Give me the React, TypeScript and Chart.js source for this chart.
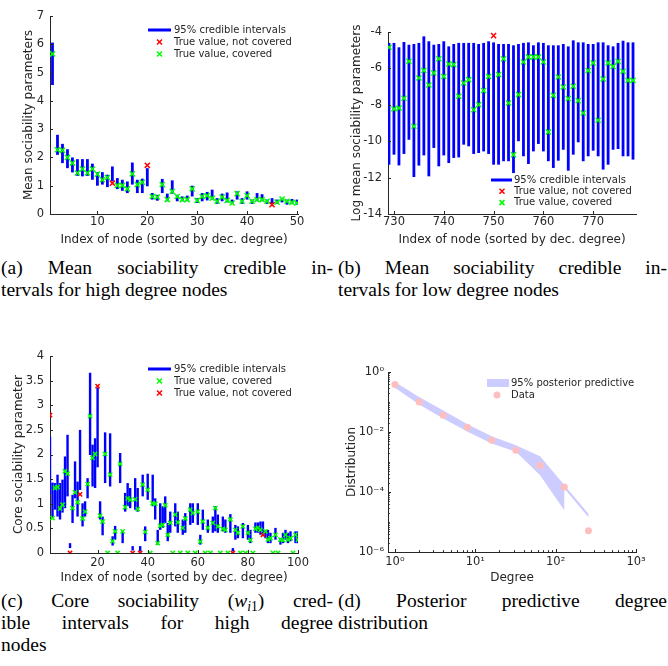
import React, { useEffect, useRef } from 'react';
import { Chart, registerables } from 'chart.js';
Chart.register(...registerables);

const SANS = '"DejaVu Sans", sans-serif';
const SERIF = '"Liberation Serif", "Times New Roman", serif';
const AXC = '#262626';
const BLUE = '#0000ff';
const GREEN = '#00ff00';
const RED = '#ff0000';

const range = (start: number, n: number) => Array.from({ length: n }, (_, i) => start + i);

// ---------- (a) high degree nodes, mean sociability ----------
const aNodes = range(1, 50);
const aLo = [4.56, 2.09, 1.80, 1.62, 1.47, 1.35, 1.33, 1.35, 1.21, 1.00,
  1.04, 0.95, 1.15, 0.88, 0.82, 0.74, 1.04, 0.74, 0.74, 0.98,
  0.51, 0.47, 0.74, 0.45, 0.72, 0.45, 0.45, 0.45, 0.62, 0.39,
  0.45, 0.48, 0.51, 0.36, 0.45, 0.41, 0.36, 0.51, 0.36, 0.51,
  0.36, 0.45, 0.45, 0.36, 0.36, 0.36, 0.41, 0.33, 0.36, 0.33];
const aHi = [6.06, 2.80, 2.48, 2.29, 2.00, 1.94, 1.94, 1.94, 1.78, 1.48,
  1.48, 1.39, 1.68, 1.27, 1.21, 1.15, 1.82, 1.21, 1.25, 1.62,
  0.74, 0.68, 1.24, 0.72, 1.19, 0.68, 0.62, 0.65, 1.00, 0.56,
  0.74, 0.78, 0.86, 0.56, 0.72, 0.76, 0.51, 0.80, 0.56, 0.80,
  0.51, 0.74, 0.70, 0.51, 0.56, 0.51, 0.56, 0.51, 0.53, 0.51];
const aTrue = [5.66, 2.27, 2.25, 2.00, 1.80, 1.45, 1.59, 1.45, 1.59, 1.41,
  1.21, 1.29, 1.09, 1.01, 1.01, 0.89, 1.42, 1.04, 1.12, 1.72,
  0.62, 0.60, 1.04, 0.51, 0.80, 0.62, 0.51, 0.51, 0.89, 0.48,
  0.62, 0.65, 0.56, 0.45, 0.60, 0.48, 0.39, 0.72, 0.45, 0.65,
  0.45, 0.51, 0.51, 0.45, 0.33, 0.42, 0.53, 0.45, 0.41, 0.39];
const aXTicks = [10, 20, 30, 40, 50];
const aYTicks = [0, 1, 2, 3, 4, 5, 6, 7];

// ---------- (b) low degree nodes, log mean sociability ----------
const bNodes = range(729, 50);
const bHi = [-4.60, -4.60, -4.84, -4.55, -4.70, -4.66, -4.60, -4.24, -4.51, -4.70,
  -4.66, -4.51, -4.79, -4.66, -4.60, -4.60, -4.60, -4.60, -4.66, -4.60,
  -4.51, -4.57, -4.66, -4.66, -4.66, -4.73, -4.66, -4.60, -4.57, -4.73,
  -4.57, -4.60, -4.73, -4.73, -4.73, -4.66, -4.79, -4.46, -4.57, -4.57,
  -4.66, -4.66, -4.57, -4.57, -4.73, -4.79, -4.60, -4.48, -4.57, -4.57];
const bLo = [-11.29, -10.74, -11.33, -10.70, -9.92, -11.97, -11.34, -10.78, -11.93, -10.37,
  -11.38, -10.78, -11.20, -10.92, -10.89, -10.19, -10.28, -10.70, -10.65, -10.56,
  -10.70, -11.29, -11.29, -11.10, -11.10, -11.75, -10.00, -10.83, -11.25, -10.56,
  -10.15, -10.56, -11.10, -11.47, -11.07, -10.47, -11.62, -10.74, -10.06, -11.10,
  -10.83, -10.52, -10.83, -11.56, -11.29, -10.47, -10.43, -10.83, -10.83, -11.01];
const bTrue = [-4.84, -8.23, -8.18, -7.64, -5.61, -9.18, -6.53, -6.11, -6.91, -6.25,
  -5.47, -6.44, -5.76, -5.79, -7.53, -6.80, -6.62, -8.27, -7.99, -7.22,
  -6.44, -4.20, -6.34, -5.47, -7.90, -10.74, -7.44, -5.65, -5.37, -5.37,
  -5.37, -5.65, -9.49, -7.48, -6.47, -7.02, -7.66, -6.98, -7.77, -8.45,
  -6.12, -5.70, -8.85, -6.58, -5.70, -5.89, -5.61, -6.16, -6.66, -6.66];
const bXTicks = [730, 740, 750, 760, 770];
const bYTicks = [-14, -12, -10, -8, -6, -4];

// ---------- (c) core sociability ----------
const cNodes = range(1, 100);
const cLo = [1.20, 0.71, 0.88, 0.74, 0.68, 0.82, 0.91, 1.15, 0.10, 0.61,
  1.11, 0.74, 1.28, 0.54, 0.74, 1.11, 1.99, 1.35, 1.32, 1.74,
  0.68, 0.36, 1.42, 0, 1.35, 0.15, 0.27, 0, 1.42, 0.20,
  0.84, 0.95, 0.91, 0.05, 0.88, 0.84, 0.03, 1.15, 0.24, 1.08,
  0, 0.95, 0.68, 0.17, 0.47, 0.51, 0.61, 0.24, 0.41, 0,
  0.54, 0.41, 0, 0.37, 0.41, 0, 0.57, 0.61, 0, 0.57,
  0.17, 0.47, 0, 0.41, 0, 0.41, 0.44, 0.41, 0, 0.44,
  0.41, 0, 0.41, 0.03, 0.27, 0.30, 0, 0.30, 0, 0.27,
  0.20, 0, 0.41, 0.41, 0.37, 0.39, 0.30, 0.20, 0.20, 0,
  0.27, 0, 0.17, 0.20, 0.27, 0.20, 0.24, 0, 0.20, 0.20];
const cHi = [2.36, 1.43, 1.42, 1.59, 1.42, 1.49, 1.96, 2.40, 0.20, 1.18,
  1.86, 1.45, 2.50, 1.01, 1.05, 1.52, 3.66, 2.20, 2.33, 3.36,
  1.05, 0.74, 2.45, 0, 2.43, 0.34, 0.55, 0, 2.03, 0.44,
  1.22, 1.42, 1.32, 0.14, 1.52, 1.32, 0.14, 1.59, 0.54, 1.61,
  0, 1.59, 1.11, 0.47, 1.01, 0.95, 1.15, 0.61, 0.84, 0,
  1.01, 0.84, 0, 0.68, 0.81, 0, 1.01, 1.01, 0, 1.01,
  0.37, 0.88, 0, 0.68, 0, 0.74, 0.95, 0.78, 0, 0.74,
  0.68, 0, 0.79, 0.10, 0.57, 0.54, 0, 0.61, 0, 0.57,
  0.47, 0, 0.62, 0.62, 0.64, 0.64, 0.47, 0.47, 0.41, 0,
  0.51, 0, 0.30, 0.41, 0.47, 0.41, 0.44, 0, 0.44, 0.44];
const cTrue = [2.80, 0.71, 1.32, 1.34, 0.90, 0.98, 1.66, 1.61, 0, 0.91,
  1.23, 1.03, 1.19, 0.70, 0.84, 1.40, 2.78, 1.93, 2.01, 3.39,
  0.76, 0.64, 2.01, 0, 1.59, 0.24, 0.44, 0, 1.81, 0.44,
  0.93, 1.11, 1.08, 0, 1.09, 0.89, 0, 1.39, 0.43, 1.28,
  0, 1.01, 1.00, 0.20, 0.55, 0.57, 0.97, 0.37, 0.61, 0,
  0.78, 0.62, 0, 0.51, 0.70, 0, 0.88, 0.81, 0, 0.84,
  0.23, 0.64, 0, 0.51, 0, 0.61, 0.91, 0.54, 0, 0.49,
  0.47, 0, 0.68, 0, 0.47, 0.41, 0, 0.54, 0, 0.41,
  0.26, 0, 0.49, 0.51, 0.47, 0.37, 0.44, 0.27, 0.30, 0,
  0.37, 0, 0.27, 0.26, 0.37, 0.27, 0.30, 0, 0.37, 0.27];
const cXTicks = [20, 40, 60, 80, 100];
const cYTicks = [0, 0.5, 1, 1.5, 2, 2.5, 3, 3.5, 4];

// ---------- (d) posterior predictive degree distribution ----------
const dDegree = [1, 2, 4, 8, 16, 32, 64, 128, 256];
const dData = [0.38, 0.1, 0.036, 0.0143, 0.0053, 0.00245, 0.00077, 0.000147, 5.1e-6];
const dBandUpper = [0.46, 0.147, 0.052, 0.018, 0.0072, 0.0036, 0.00155, 0.00017, 1.9e-5];
const dBandLowerX = [1, 2, 4, 8, 16, 32, 64, 128, 128, 256];
const dBandLower = [0.30, 0.083, 0.028, 0.0102, 0.0041, 0.0022, 0.00036, 2.45e-5, 1.3e-4, 1.45e-5];
const dXTicks = [1, 10, 100, 1000];
const dXLabels = ['10\u2070', '10\u00b9', '10\u00b2', '10\u00b3'];
const dYTicks = [1e-6, 1e-4, 1e-2, 1];
const dYLabels = ['10\u207b\u2076', '10\u207b\u2074', '10\u207b\u00b2', '10\u2070'];
const logMinor = (lo: number, hi: number) => {
  const out: number[] = [];
  for (let e = lo; e < hi; e++) for (let k = 1; k <= 9; k++) out.push(k * Math.pow(10, e));
  return out;
};

// ---------- plugins ----------
const inTicks = {
  id: 'inTicks',
  afterDatasetsDraw(chart: any, _a: any, opts: any) {
    const { ctx, chartArea } = chart;
    const { left, bottom } = chartArea;
    const xs = chart.scales.x, ys = chart.scales.y;
    ctx.save();
    ctx.strokeStyle = AXC;
    ctx.lineWidth = 1;
    ctx.beginPath();
    const vx = (v: number, len: number) => {
      const p = Math.round(xs.getPixelForValue(v)) + 0.5;
      ctx.moveTo(p, bottom); ctx.lineTo(p, bottom - len);
    };
    const vy = (v: number, len: number) => {
      const p = Math.round(ys.getPixelForValue(v)) + 0.5;
      ctx.moveTo(left, p); ctx.lineTo(left + len, p);
    };
    xs.ticks.forEach((t: any) => vx(t.value, 3));
    ys.ticks.forEach((t: any) => vy(t.value, 3));
    (opts.xMinor || []).forEach((v: number) => { if (v >= xs.min && v <= xs.max) vx(v, 1.8); });
    (opts.yMinor || []).forEach((v: number) => { if (v >= ys.min && v <= ys.max) vy(v, 1.8); });
    ctx.stroke();
    ctx.restore();
  },
};

const mLegend = {
  id: 'mLegend',
  afterDraw(chart: any, _a: any, opts: any) {
    if (!opts || !opts.items) return;
    const ctx = chart.ctx;
    ctx.save();
    ctx.font = `10px ${SANS}`;
    ctx.textBaseline = 'middle';
    ctx.textAlign = 'left';
    opts.items.forEach((it: any, i: number) => {
      const ds = chart.data.datasets[it.ds];
      const y = opts.y + i * opts.dy;
      if (it.kind === 'line') {
        ctx.strokeStyle = ds.backgroundColor;
        ctx.lineWidth = 3;
        ctx.beginPath(); ctx.moveTo(opts.x0, y); ctx.lineTo(opts.x1, y); ctx.stroke();
      } else if (it.kind === 'cross') {
        const r = 2.5;
        ctx.strokeStyle = ds.pointBorderColor;
        ctx.lineWidth = 1.5;
        ctx.beginPath();
        ctx.moveTo(opts.mx - r, y - r); ctx.lineTo(opts.mx + r, y + r);
        ctx.moveTo(opts.mx - r, y + r); ctx.lineTo(opts.mx + r, y - r);
        ctx.stroke();
      } else if (it.kind === 'rect') {
        ctx.fillStyle = ds.backgroundColor;
        ctx.fillRect(opts.x0, y - 4, opts.x1 - opts.x0, 8);
      } else if (it.kind === 'dot') {
        ctx.fillStyle = ds.pointBackgroundColor;
        ctx.beginPath(); ctx.arc(opts.mx, y, 3.5, 0, Math.PI * 2); ctx.fill();
      }
      ctx.fillStyle = AXC;
      ctx.fillText(ds.label, opts.tx, y);
    });
    ctx.restore();
  },
};

// ---------- config builders ----------
function axes(p: any) {
  const tickFont = { family: SANS, size: 11.5 };
  const titleFont = { family: SANS, size: 12 };
  return {
    x: {
      type: p.xType || 'linear', min: p.xMin, max: p.xMax, offset: false,
      grid: { display: false, drawTicks: false, offset: false },
      border: { display: true, color: AXC, width: 1 },
      ticks: {
        color: AXC, font: tickFont, padding: p.xTickPad, maxRotation: 0, autoSkip: false,
        callback: p.xLabel || ((v: number) => String(v)),
      },
      title: { display: true, text: p.xTitle, color: AXC, font: titleFont, padding: { top: 0, bottom: p.xTitlePad } },
      afterBuildTicks: (s: any) => { s.ticks = p.xTicks.map((v: number) => ({ value: v })); },
      afterFit: (s: any) => { s.height = p.xH; },
    },
    y: {
      type: p.yType || 'linear', min: p.yMin, max: p.yMax,
      grid: { display: false, drawTicks: false },
      border: { display: true, color: AXC, width: 1 },
      ticks: {
        color: AXC, font: tickFont, padding: p.yTickPad, autoSkip: false,
        callback: p.yLabel || ((v: number) => String(v)),
      },
      title: { display: true, text: p.yTitle, color: AXC, font: titleFont, padding: { top: p.yTitlePad, bottom: 0 } },
      afterBuildTicks: (s: any) => { s.ticks = p.yTicks.map((v: number) => ({ value: v })); },
      afterFit: (s: any) => { s.width = p.yW; },
    },
  };
}

function intervalConfig(p: any) {
  const cov: any[] = [];
  const unc: any[] = [];
  p.nodes.forEach((x: number, i: number) => {
    const pt = { x, y: p.tru[i] };
    if (p.tru[i] >= p.lo[i] && p.tru[i] <= p.hi[i]) cov.push(pt); else unc.push(pt);
  });
  const marker = (data: any[], color: string, label: string, order: number) => ({
    type: 'scatter', label, data, showLine: false, order,
    pointStyle: 'crossRot', pointRadius: p.markR, pointHoverRadius: p.markR,
    pointBorderColor: color, pointBackgroundColor: color, pointBorderWidth: 1.5,
  });
  return {
    type: 'scatter',
    data: {
      datasets: [
        {
          type: 'bar', label: '95% credible intervals', order: 3,
          data: p.nodes.map((x: number, i: number) => ({ x, y: [p.lo[i], p.hi[i]] })),
          backgroundColor: BLUE, borderWidth: 0, barThickness: p.barW, grouped: false, inflateAmount: 0,
        },
        marker(cov, GREEN, 'True value, covered', 1),
        marker(unc, RED, 'True value, not covered', 2),
      ],
    },
    options: {
      responsive: false, animation: false, devicePixelRatio: 1, events: [],
      layout: { padding: p.pad },
      scales: axes(p),
      plugins: {
        legend: { display: false }, tooltip: { enabled: false },
        mLegend: p.legend,
        inTicks: {},
      },
    },
    plugins: [inTicks, mLegend],
  };
}

function degreeConfig() {
  const band = [
    ...dDegree.map((x, i) => ({ x, y: dBandUpper[i] })),
    ...dBandLowerX.map((x, i) => ({ x, y: dBandLower[i] })).reverse(),
  ];
  const p = {
    xType: 'logarithmic', yType: 'logarithmic', xMin: 0.82, xMax: 1000, yMin: 1e-6, yMax: 1,
    xTicks: dXTicks, yTicks: dYTicks,
    xLabel: (v: number) => dXLabels[dXTicks.indexOf(v)] ?? '',
    yLabel: (v: number) => dYLabels[dYTicks.indexOf(v)] ?? '',
    xTitle: 'Degree', yTitle: 'Distribution',
    pad: { left: 0, top: 42, right: 32, bottom: 0 }, yW: 54, xH: 38,
    yTitlePad: 10.8, xTitlePad: 4.8, xTickPad: 3, yTickPad: 4,
  };
  return {
    type: 'scatter',
    data: {
      datasets: [
        {
          type: 'scatter', label: '95% posterior predictive', data: band, showLine: true, order: 2,
          fill: 'shape', backgroundColor: 'rgba(0,0,255,0.2)', borderColor: 'rgba(0,0,0,0)', borderWidth: 0,
          pointRadius: 0, pointHoverRadius: 0, tension: 0,
        },
        {
          type: 'scatter', label: 'Data', data: dDegree.map((x, i) => ({ x, y: dData[i] })), showLine: false, order: 1,
          pointStyle: 'circle', pointRadius: 3.5, pointHoverRadius: 3.5, pointBorderWidth: 0,
          pointBackgroundColor: 'rgb(255,190,190)', pointBorderColor: 'rgb(255,190,190)',
        },
      ],
    },
    options: {
      responsive: false, animation: false, devicePixelRatio: 1, events: [],
      layout: { padding: p.pad },
      scales: axes(p),
      plugins: {
        legend: { display: false }, tooltip: { enabled: false },
        mLegend: { x0: 153, x1: 175, mx: 163, tx: 177, y: 53, dy: 12, items: [{ ds: 0, kind: 'rect' }, { ds: 1, kind: 'dot' }] },
        inTicks: { xMinor: logMinor(0, 3), yMinor: logMinor(-6, 0) },
      },
    },
    plugins: [inTicks, mLegend],
  };
}

const X_TITLE = 'Index of node (sorted by dec. degree)';

const panelA = () => intervalConfig({
  nodes: aNodes, lo: aLo, hi: aHi, tru: aTrue,
  xMin: 0.5, xMax: 50.2, xTicks: aXTicks, yMin: 0, yMax: 7, yTicks: aYTicks,
  xTitle: X_TITLE, yTitle: 'Mean sociability parameters',
  pad: { left: 0, top: 16, right: 36, bottom: 0 }, yW: 50, xH: 36,
  yTitlePad: 21.8, xTitlePad: 2.8, xTickPad: 1, yTickPad: 6, barW: 2.8, markR: 3.6,
  legend: { x0: 148, x1: 171, mx: 159.5, tx: 174, y: 30, dy: 12, items: [{ ds: 0, kind: 'line' }, { ds: 2, kind: 'cross' }, { ds: 1, kind: 'cross' }] },
});
const panelB = () => intervalConfig({
  nodes: bNodes, lo: bLo, hi: bHi, tru: bTrue,
  xMin: 728.8, xMax: 778.6, xTicks: bXTicks, yMin: -14, yMax: -4, yTicks: bYTicks,
  xTitle: X_TITLE, yTitle: 'Log mean sociability parameters',
  pad: { left: 0, top: 32, right: 32, bottom: 0 }, yW: 54, xH: 36,
  yTitlePad: 15.8, xTitlePad: 2.8, xTickPad: 1, yTickPad: 6, barW: 2.8, markR: 3.6,
  legend: { x0: 157, x1: 178, mx: 168, tx: 180, y: 180, dy: 11.3, items: [{ ds: 0, kind: 'line' }, { ds: 2, kind: 'cross' }, { ds: 1, kind: 'cross' }] },
});
const panelC = () => intervalConfig({
  nodes: cNodes, lo: cLo, hi: cHi, tru: cTrue,
  xMin: 1, xMax: 100, xTicks: cXTicks, yMin: 0, yMax: 4, yTicks: cYTicks,
  xTitle: X_TITLE, yTitle: 'Core sociability parameter',
  pad: { left: 0, top: 26, right: 36, bottom: 0 }, yW: 50, xH: 37,
  yTitlePad: 11.8, xTitlePad: 4.8, xTickPad: 3, yTickPad: 6, barW: 2.4, markR: 3,
  legend: { x0: 148, x1: 171, mx: 159.5, tx: 174, y: 39, dy: 12, items: [{ ds: 0, kind: 'line' }, { ds: 1, kind: 'cross' }, { ds: 2, kind: 'cross' }] },
});

function Panel({ left, top, width, height, make }: any) {
  const ref = useRef<HTMLCanvasElement>(null);
  useEffect(() => {
    const chart = new Chart(ref.current as HTMLCanvasElement, make());
    return () => chart.destroy();
  }, []);
  return <canvas ref={ref} width={width} height={height} style={{ position: 'absolute', left, top, width, height }} />;
}

// ---------- captions ----------
const captionA = ['(a) Mean sociability credible in-', 'tervals for high degree nodes'];
const captionB = ['(b) Mean sociability credible in-', 'tervals for low degree nodes'];
const captionC = ['(c) Core sociability $W cred-', 'ible intervals for high degree', 'nodes'];
const captionD = ['(d) Posterior predictive degree', 'distribution'];

function Word({ w }: { w: string }) {
  if (w === '$W') {
    return (
      <span>(<i>w</i><sub style={{ fontSize: '70%', verticalAlign: '-0.3em', lineHeight: 0 }}><i>i</i>1</sub>)</span>
    );
  }
  return <span>{w}</span>;
}

function Caption({ left, top, width, lines }: any) {
  return (
    <>
      {lines.map((ln: string, i: number) => {
        const last = i === lines.length - 1;
        const words = ln.split(' ');
        return (
          <div key={i} style={{
            position: 'absolute', left, top: top + i * 22, width, height: 22,
            display: 'flex', justifyContent: last ? 'flex-start' : 'space-between',
            columnGap: last ? '0.25em' : 0, whiteSpace: 'nowrap',
            fontFamily: SERIF, fontSize: 19.5, lineHeight: '22px', color: '#000',
          }}>
            {words.map((w, j) => <Word key={j} w={w} />)}
          </div>
        );
      })}
    </>
  );
}

export default function App() {
  return (
    <div style={{ position: 'absolute', left: 0, top: 0, width: 668, height: 666, background: '#fff', overflow: 'hidden' }}>
      <Panel left={0} top={0} width={334} height={250} make={panelA} />
      <Panel left={334} top={0} width={334} height={250} make={panelB} />
      <Panel left={0} top={330} width={334} height={260} make={panelC} />
      <Panel left={334} top={330} width={334} height={260} make={degreeConfig} />
      <Caption left={1} top={257} width={332} lines={captionA} />
      <Caption left={338} top={257} width={329} lines={captionB} />
      <Caption left={1} top={590} width={332} lines={captionC} />
      <Caption left={338} top={590} width={329} lines={captionD} />
    </div>
  );
}
